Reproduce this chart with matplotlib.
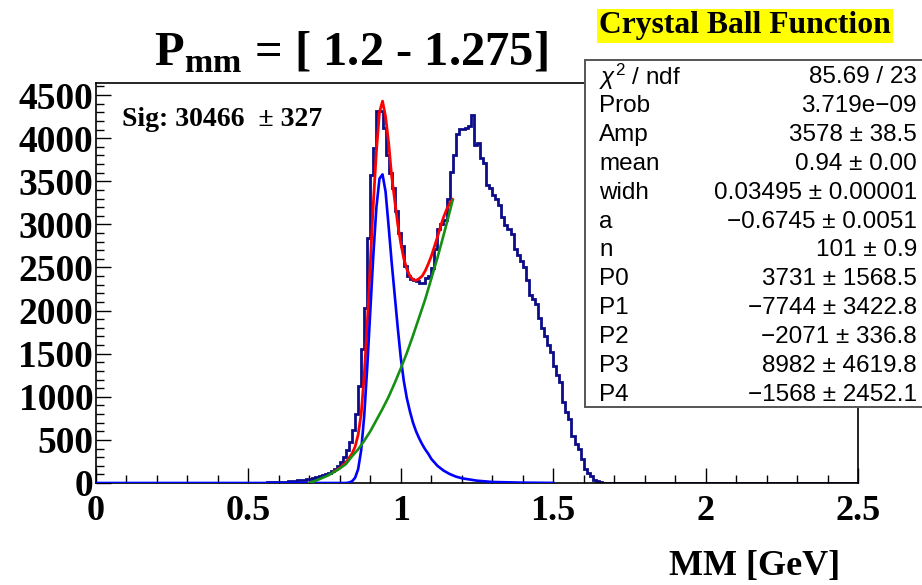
import numpy as np
import matplotlib
matplotlib.use("Agg")
import matplotlib.pyplot as plt
from matplotlib.patches import Rectangle
from matplotlib.ticker import MultipleLocator

# histogram: bin width 0.01, first non-empty bin at 0.50
bin_width = 0.01
hist_start = 0.50
hist_counts = [
    2, 2, 3, 3, 4, 5, 6, 7, 9, 10,                                  # 0.50
    12, 14, 16, 19, 22, 26, 30, 35, 40, 46,                         # 0.60
    52, 60, 68, 78, 90, 105, 120, 140, 165, 195,                    # 0.70
    240, 300, 380, 480, 620, 800, 1130, 1560, 2030, 2840,           # 0.80
    3570, 3890, 4310, 4320, 4120, 3800, 3600, 3420, 3150, 2900,     # 0.90
    2750, 2520, 2400, 2370, 2350, 2340, 2320, 2320, 2380, 2400,     # 1.00
    2490, 2720, 2950, 3000, 3050, 3300, 3610, 3800, 4050, 4110,     # 1.10
    4110, 4120, 4140, 4270, 3920, 3940, 3770, 3710, 3460, 3420,     # 1.20
    3340, 3300, 3220, 3090, 2990, 2950, 2890, 2720, 2650, 2570,     # 1.30
    2510, 2350, 2180, 2130, 2080, 1910, 1800, 1710, 1600, 1520,     # 1.40
    1360, 1250, 1175, 940, 820, 744, 547, 450, 395, 279,            # 1.50
    163, 120, 81, 35, 20, 10, 5, 2, 1, 0,                           # 1.60
]

# total fit (red)
fit_x = [0.78, 0.80, 0.82, 0.84, 0.85, 0.86, 0.87, 0.88, 0.89, 0.90,
         0.91, 0.92, 0.93, 0.94, 0.95, 0.96, 0.97, 0.98, 0.99, 1.00,
         1.01, 1.02, 1.03, 1.04, 1.05, 1.06, 1.07, 1.08, 1.09, 1.10,
         1.11, 1.12, 1.13, 1.14, 1.15, 1.16, 1.17]
fit_y = [130, 175, 240, 340, 420, 560, 800, 1250, 1850, 2550,
         3250, 3850, 4300, 4430, 4250, 3950, 3560, 3280, 3000, 2780,
         2600, 2480, 2400, 2360, 2350, 2370, 2400, 2460, 2540, 2630,
         2740, 2850, 2970, 3080, 3170, 3240, 3290]

# crystal ball signal (blue)
cb_x = [0.00, 0.82, 0.83, 0.84, 0.85, 0.86, 0.87, 0.88, 0.89, 0.90,
        0.91, 0.92, 0.93, 0.94, 0.95, 0.96, 0.97, 0.98, 0.99, 1.00,
        1.01, 1.02, 1.03, 1.04, 1.05, 1.06, 1.07, 1.08, 1.09, 1.10,
        1.12, 1.14, 1.16, 1.18, 1.20, 1.25, 1.30, 1.40, 1.50]
cb_y = [0, 0, 5, 20, 60, 160, 380, 780, 1350, 2000,
        2650, 3200, 3530, 3580, 3380, 2980, 2560, 2180, 1800, 1450,
        1180, 980, 830, 700, 600, 520, 450, 390, 340, 280,
        200, 145, 105, 75, 55, 27, 12, 4, 1]

# pol4 background (green)
bg_x = [0.70, 0.72, 0.74, 0.76, 0.78, 0.80, 0.82, 0.84, 0.86, 0.88,
        0.90, 0.92, 0.94, 0.96, 0.98, 1.00, 1.02, 1.04, 1.06, 1.08,
        1.10, 1.12, 1.14, 1.16, 1.17]
bg_y = [0, 25, 55, 85, 125, 170, 220, 310, 390, 490,
        600, 730, 860, 1000, 1160, 1330, 1510, 1710, 1920, 2130,
        2370, 2610, 2870, 3140, 3280]

stat_labels = [r"$\chi^{2}$ / ndf", "Prob", "Amp", "mean", "widh", "a", "n",
               "P0", "P1", "P2", "P3", "P4"]
stat_values = ["85.69 / 23", "3.719e\u221209", "3578 \u00b1 38.5", "0.94 \u00b1 0.00",
               "0.03495 \u00b1 0.00001", "\u22120.6745 \u00b1 0.0051", "101 \u00b1 0.9",
               "3731 \u00b1 1568.5", "\u22127744 \u00b1 3422.8", "\u22122071 \u00b1 336.8",
               "8982 \u00b1 4619.8", "\u22121568 \u00b1 2452.1"]

plt.rcParams['mathtext.fontset'] = 'custom'
plt.rcParams['mathtext.rm'] = 'Liberation Sans'
plt.rcParams['mathtext.it'] = 'Liberation Sans:italic'
plt.rcParams['mathtext.bf'] = 'Liberation Serif:bold'

W, H = 922, 585
fig = plt.figure(figsize=(W / 100, H / 100), dpi=100)
ax = fig.add_axes([96 / W, 1 - 483 / H, (858 - 96) / W, (483 - 83) / H])

edges = np.round(np.arange(0, 2.5 + bin_width / 2, bin_width), 2)
counts = np.zeros(len(edges) - 1)
i0 = int(round(hist_start / bin_width))
counts[i0:i0 + len(hist_counts)] = hist_counts

ax.stairs(counts, edges, color="#0c0c88", lw=2.0, baseline=None, zorder=2)
ax.plot(fit_x, fit_y, color="#ff0000", lw=2.0, zorder=3)
ax.plot(cb_x, cb_y, color="#0000ff", lw=1.9, zorder=4)
ax.plot(bg_x, bg_y, color="#159015", lw=1.9, zorder=4)

ax.set_xlim(0, 2.5)
ax.set_ylim(0, 4640)
ax.xaxis.set_major_locator(MultipleLocator(0.5))
ax.xaxis.set_minor_locator(MultipleLocator(0.1))
ax.yaxis.set_major_locator(MultipleLocator(500))
ax.yaxis.set_minor_locator(MultipleLocator(100))
ax.xaxis.set_major_formatter(plt.FuncFormatter(lambda v, p: f"{v:g}"))
ax.tick_params(which='both', direction='in', top=False, right=False, width=1.0)
ax.tick_params(which='major', length=11)
ax.tick_params(which='minor', length=6)
ax.tick_params(axis='x', pad=9)
ax.tick_params(axis='y', pad=2)
for lab in ax.get_xticklabels():
    lab.set_fontfamily("Liberation Serif")
    lab.set_fontweight("bold")
    lab.set_fontsize(26)
for lab in ax.get_yticklabels():
    lab.set_fontfamily("Liberation Serif")
    lab.set_fontweight("bold")
    lab.set_fontsize(27)
for s in ax.spines.values():
    s.set_linewidth(1.2)

ax.text(0.034, 0.91, "Sig: 30466  \u00b1 327", transform=ax.transAxes,
        fontfamily="Liberation Serif", fontweight="bold", fontsize=20,
        va="center", ha="left")

fig.text(351 / W, 1 - 52 / H, r"P$_{\mathbf{mm}}$ = [ 1.2 - 1.275]",
         fontfamily="Liberation Serif", fontweight="bold", fontsize=35,
         ha="center", va="center")

fig.text(840 / W, 1 - 566 / H, "MM [GeV]", fontfamily="Liberation Serif",
         fontweight="bold", fontsize=26, ha="right", va="center")

fig.text(745 / W, 1 - 26 / H, "Crystal Ball Function", fontfamily="Liberation Serif",
         fontweight="bold", fontsize=22.8, ha="center", va="center",
         bbox=dict(facecolor="#ffff00", edgecolor="none", pad=1.5))

# stats box
box = Rectangle((585 / W, 1 - 407 / H), 340 / W, (407 - 60) / H, transform=fig.transFigure,
                facecolor="white", edgecolor="#555555", lw=1.4, zorder=5)
fig.patches.append(box)
for k, (lab, val) in enumerate(zip(stat_labels, stat_values)):
    yy = 1 - (77 + k * 28.9) / H
    fig.text(599 / W, yy, lab, fontfamily="Liberation Sans", fontsize=17.5,
             ha="left", va="center", zorder=6)
    fig.text(917 / W, yy, val, fontfamily="Liberation Sans", fontsize=17.5,
             ha="right", va="center", zorder=6)

fig.savefig("out.png", dpi=100)
